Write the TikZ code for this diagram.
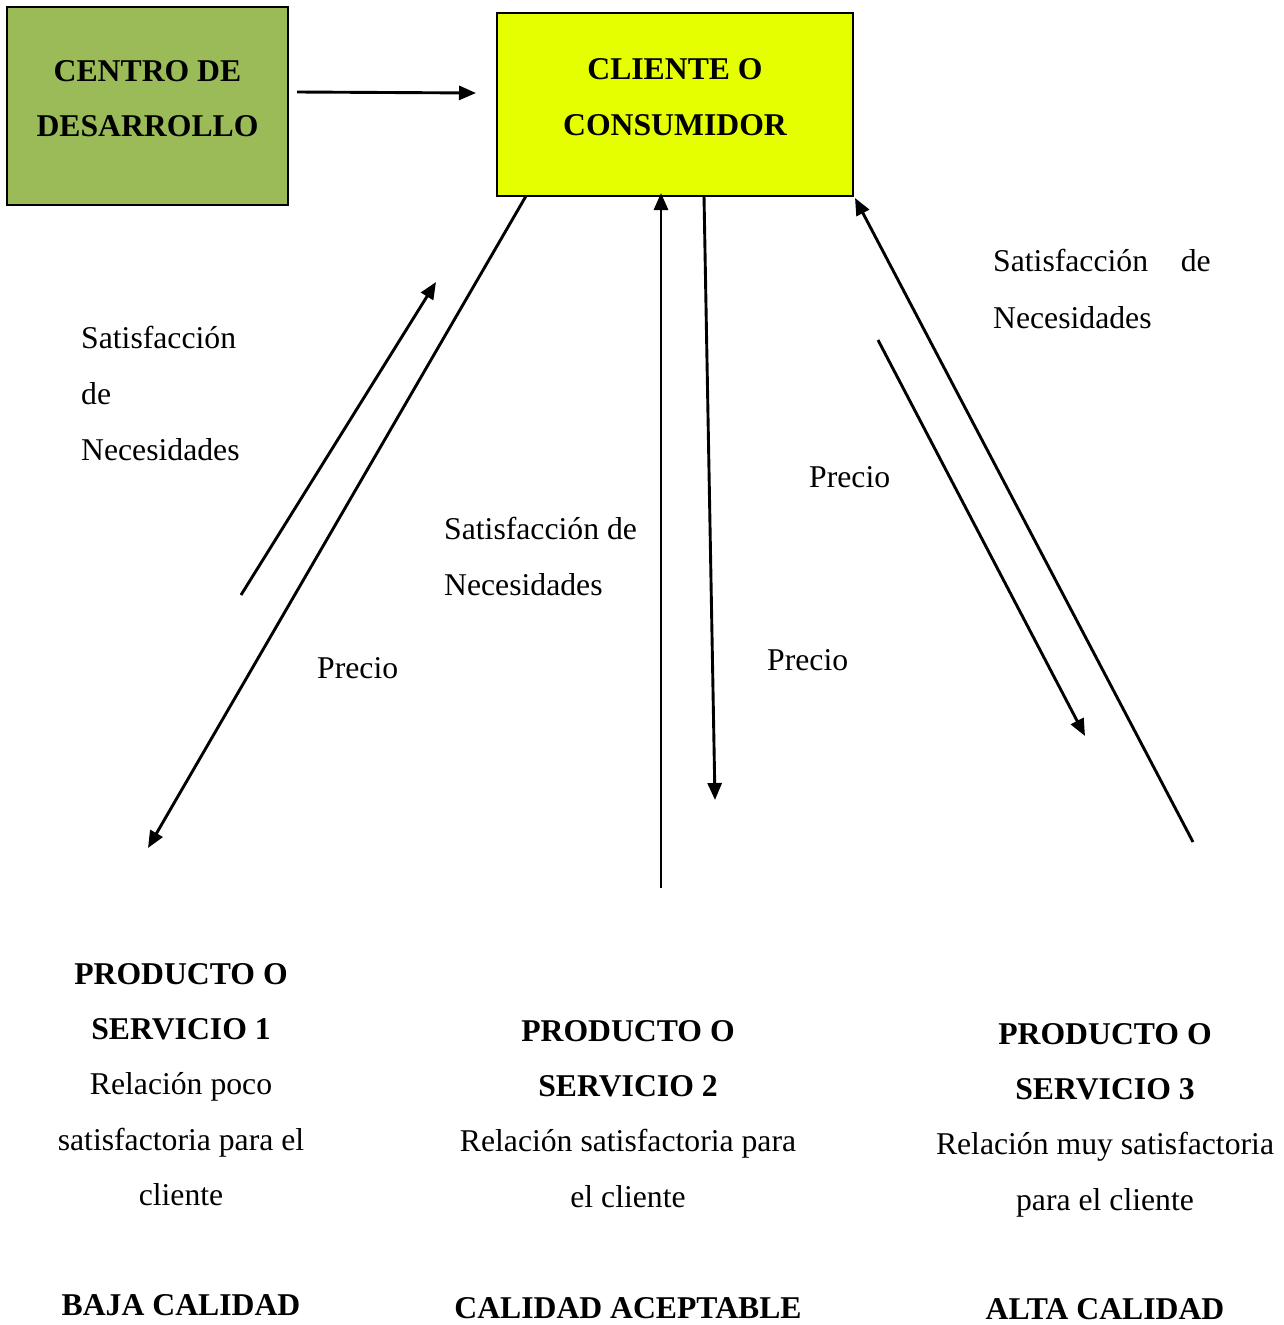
\documentclass[tikz,border=0pt]{standalone}
\usepackage{fontspec}
\setmainfont{Liberation Serif}
\usetikzlibrary{arrows.meta}
\definecolor{boxgreen}{HTML}{9BBB59}
\definecolor{boxyellow}{HTML}{E6FF00}
\begin{document}
\begin{tikzpicture}[x=1pt,y=-1pt,
  txt/.style={inner sep=0pt, font=\fontsize{31.7}{55.4}\selectfont},
  btxt/.style={inner sep=0pt, font=\fontsize{31.7}{55.4}\selectfont\bfseries},
  box/.style={draw=black, line width=2.5pt, inner sep=0pt},
  conn/.style={line width=2.9pt},
  arr/.style={conn, -{Triangle[length=17pt,width=14pt]}}]
\useasboundingbox (0,0) rectangle (1284,1325);
% boxes
\node[box, fill=boxgreen, minimum width=281pt, minimum height=198pt] (centro) at (147.5,106) {};
\node[box, fill=boxyellow, minimum width=356pt, minimum height=183pt] (cliente) at (675,104.5) {};
\node[btxt, anchor=base] (c1) at (147.5,81) {CENTRO DE};
\node[btxt, anchor=base] (c2) at (147.5,136) {DESARROLLO};
\node[btxt, anchor=base] (k1) at (675,79) {CLIENTE O};
\node[btxt, anchor=base] (k2) at (675,135) {CONSUMIDOR};
% connector end points
\coordinate (a0s) at (297,92);  \coordinate (a0e) at (476,93);
\coordinate (a1s) at (526,196); \coordinate (a1e) at (148,848);
\coordinate (a2s) at (241,595); \coordinate (a2e) at (436,282);
\coordinate (a3s) at (661,888); \coordinate (a3e) at (661,193);
\coordinate (a4s) at (704,196); \coordinate (a4e) at (715,800);
\coordinate (a5s) at (1193,842); \coordinate (a5e) at (855,198);
\coordinate (a6s) at (878,340); \coordinate (a6e) at (1085,736);
\draw[arr] (a0s) -- (a0e);
\draw[arr] (a1s) -- (a1e);
\draw[arr] (a2s) -- (a2e);
\draw[arr] (a3s) -- (a3e);
\draw[arr] (a4s) -- (a4e);
\draw[arr] (a5s) -- (a5e);
\draw[arr] (a6s) -- (a6e);
% labels
\node[txt, anchor=base west] (l1) at (81,348) {Satisfacción};
\node[txt, anchor=base west] (l2) at (81,404) {de};
\node[txt, anchor=base west] (l3) at (81,460) {Necesidades};
\node[txt, anchor=base west] (p1) at (317,678) {Precio};
\node[txt, anchor=base west] (m1) at (444,539) {Satisfacción de};
\node[txt, anchor=base west] (m2) at (444,595) {Necesidades};
\node[txt, anchor=base west] (p2) at (767,670) {Precio};
\node[txt, anchor=base west] (p3) at (809,487) {Precio};
\node[txt, anchor=base west] (r1) at (993,271) {Satisfacción};
\node[txt, anchor=base east] (r2) at (1211,271) {de};
\node[txt, anchor=base west] (r3) at (993,328) {Necesidades};
% column 1
\node[btxt, anchor=base] (s11) at (181,984.5) {PRODUCTO O};
\node[btxt, anchor=base] (s12) at (181,1039.7) {SERVICIO 1};
\node[txt, anchor=base] (s13) at (181,1094.9) {Relación poco};
\node[txt, anchor=base] (s14) at (181,1150.1) {satisfactoria para el};
\node[txt, anchor=base] (s15) at (181,1205.3) {cliente};
\node[btxt, anchor=base] (q1) at (181,1315) {BAJA CALIDAD};
% column 2
\node[btxt, anchor=base] (s21) at (628,1041.5) {PRODUCTO O};
\node[btxt, anchor=base] (s22) at (628,1096.7) {SERVICIO 2};
\node[txt, anchor=base] (s23) at (628,1151.9) {Relación satisfactoria para};
\node[txt, anchor=base] (s24) at (628,1207.1) {el cliente};
\node[btxt, anchor=base] (q2) at (628,1318) {CALIDAD ACEPTABLE};
% column 3
\node[btxt, anchor=base] (s31) at (1105,1044.5) {PRODUCTO O};
\node[btxt, anchor=base] (s32) at (1105,1099.7) {SERVICIO 3};
\node[txt, anchor=base] (s33) at (1105,1154.9) {Relación muy satisfactoria};
\node[txt, anchor=base] (s34) at (1105,1210.1) {para el cliente};
\node[btxt, anchor=base] (q3) at (1105,1319) {ALTA CALIDAD};
\end{tikzpicture}
\end{document}
